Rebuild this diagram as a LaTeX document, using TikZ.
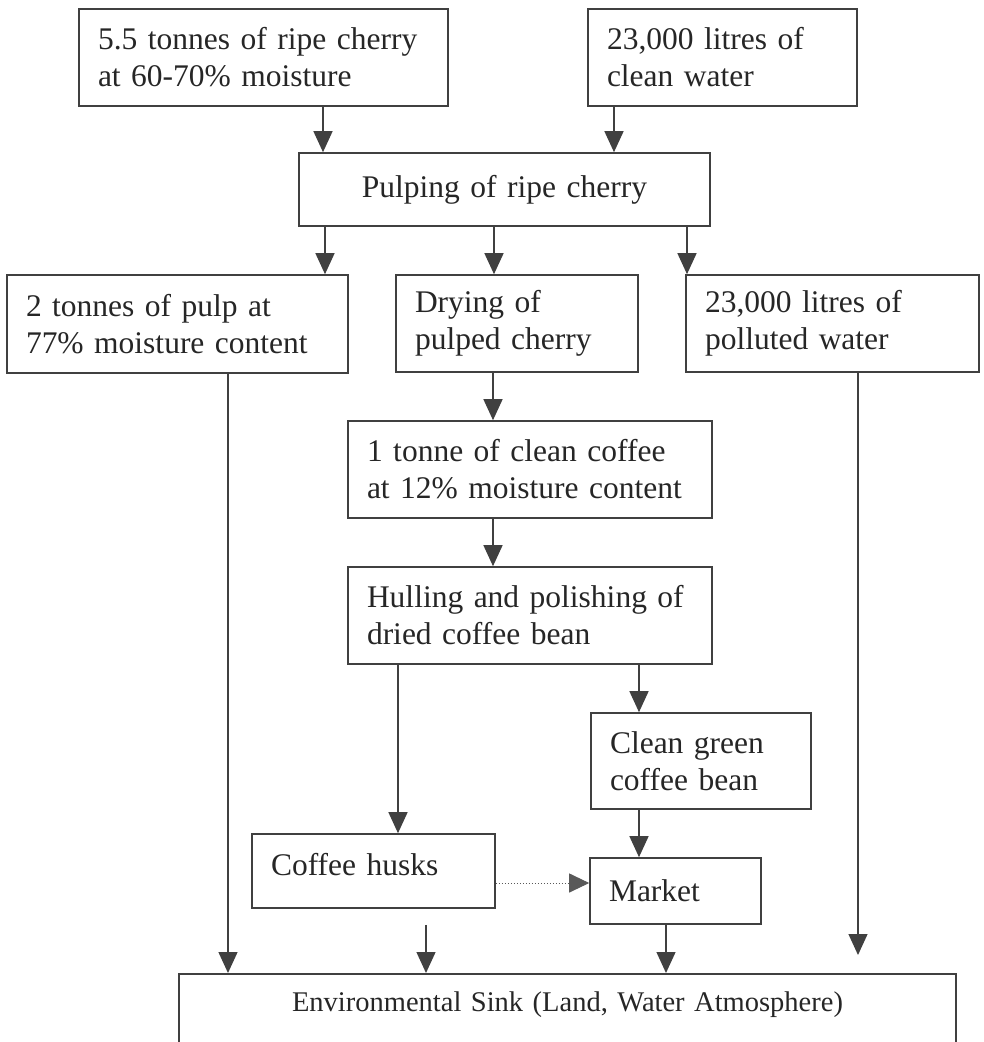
\documentclass[tikz,border=0pt]{standalone}
\usepackage{fontspec}
\setmainfont{Liberation Serif}
\usetikzlibrary{arrows.meta, positioning, calc}

\begin{document}
\begin{tikzpicture}[x=1pt, y=-1pt,
    box/.style={rectangle, draw=black!75, line width=1.6pt, text=black!85,
                inner xsep=19pt, inner ysep=0pt, align=left,
                font=\fontsize{31.5}{37}\selectfont},
    sinkbox/.style={rectangle, draw=black!75, line width=1.6pt, text=black!85,
                inner xsep=19pt, inner ysep=18pt, align=center, anchor=north,
                text height=20pt, text depth=30pt, font=\fontsize{28.5}{34}\selectfont},
    arr/.style={-{Triangle[length=21pt, width=19pt]}, draw=black!75, line width=1.3pt},
    dotarr/.style={-{Triangle[length=20pt, width=19pt]}, draw=black!65,
                line width=1pt, dash pattern=on 1.5pt off 1.5pt}
]
\path[use as bounding box, clip] (0,0) rectangle (984,1042);
% Inputs
\node[box, text width=331pt, minimum height=97pt] (cherry) at (263.5,57.5) {5.5 tonnes of ripe cherry\\at 60-70\% moisture};
\node[box, text width=231pt, minimum height=97pt] (water) at (722.5,57.5) {23,000 litres of\\clean water};
% Pulping and its three outputs
\node[box, text width=373pt, minimum height=73pt, align=center] (pulping) at (504.5,189.5) {Pulping of ripe cherry};
\node[box, text width=303pt, minimum height=98pt] (pulp) at (177.5,324) {2 tonnes of pulp at\\77\% moisture content};
\node[box, text width=204pt, minimum height=97pt] (drying) at (517,323.5) {Drying of\\pulped cherry};
\node[box, text width=255pt, minimum height=97pt] (polluted) at (832.5,323.5) {23,000 litres of\\polluted water};
% Processing chain
\node[box, text width=326pt, minimum height=97pt] (clean) at (530,469.5) {1 tonne of clean coffee\\at 12\% moisture content};
\node[box, text width=326pt, minimum height=97pt] (hulling) at (530,615.5) {Hulling and polishing of\\dried coffee bean};
\node[box, text width=182pt, minimum height=96pt] (green) at (701,761) {Clean green\\coffee bean};
\node[box, text width=205pt, minimum height=74pt, text depth=14pt] (husks) at (373.5,871) {Coffee husks};
\node[box, text width=133pt, minimum height=66pt] (market) at (675.5,891) {Market};
% Sink (runs off the bottom edge)
\node[sinkbox, text width=739pt] (sink) at (567.5,973) {Environmental Sink (Land, Water Atmosphere)};
% Edges into pulping
\draw[arr] (cherry.south -| 323,0) -- (pulping.north -| 323,0);
\draw[arr] (water.south -| 614,0) -- (pulping.north -| 614,0);
% Edges pulping -> outputs
\draw[arr] (pulping.south -| 325,0) -- (pulp.north -| 325,0);
\draw[arr] (pulping.south -| 494,0) -- (drying.north -| 494,0);
\draw[arr] (pulping.south -| 687,0) -- (polluted.north -| 687,0);
% Edges down the chain
\draw[arr] (drying.south -| 493,0) -- (clean.north -| 493,0);
\draw[arr] (clean.south -| 493,0) -- (hulling.north -| 493,0);
\draw[arr] (hulling.south -| 398,0) -- (husks.north -| 398,0);
\draw[arr] (hulling.south -| 639,0) -- (green.north -| 639,0);
\draw[arr] (green.south -| 639,0) -- (market.north -| 639,0);
\draw[dotarr] ([yshift=-12pt]husks.east) -- ([yshift=-12pt]husks.east -| market.west);
% Edges into the sink
\draw[arr] (pulp.south -| 228,0) -- (sink.north -| 228,0);
\draw[arr] ([yshift=-16pt]husks.south -| 426,0) -- (sink.north -| 426,0);
\draw[arr] (market.south -| 666,0) -- (sink.north -| 666,0);
\draw[arr] (polluted.south -| 858,0) -- ([yshift=18pt]sink.north -| 858,0);
\end{tikzpicture}
\end{document}
